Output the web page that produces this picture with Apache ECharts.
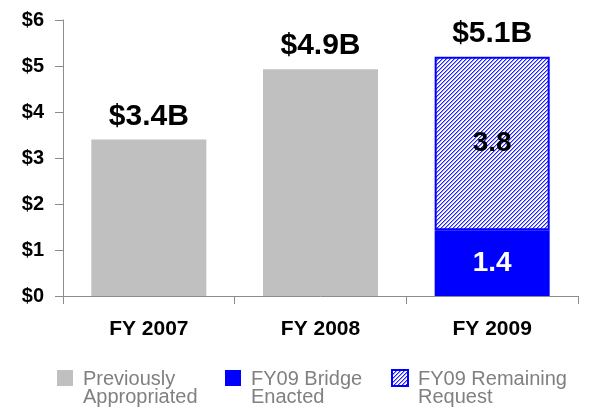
<!DOCTYPE html>
<html>
<head>
<meta charset="utf-8">
<script src="https://cdn.jsdelivr.net/npm/echarts@6/dist/echarts.min.js"></script>
<style>
  html, body { margin: 0; padding: 0; background: #fff; }
  #chart { width: 601px; height: 409px; }
</style>
</head>
<body>
<div id="chart"></div>
<script>
// fiscal years on the x axis
var categories = ['FY 2007', 'FY 2008', 'FY 2009'];
// $ billions
var previouslyAppropriated = [3.4, 4.93, '-'];
var bridgeEnacted = ['-', '-', 1.43];
var remainingRequest = ['-', '-', 3.77];
var totalLabels = ['$3.4B', '$4.9B', '$5.1B'];
var bridgeLabels = ['', '', '1.4'];
var remainingLabels = ['', '', '3.8'];
var yTicks = [0, 1, 2, 3, 4, 5, 6];

var font = 'Arial, "Liberation Sans", sans-serif';

// hatch tile for the remaining request
function hatch() {
  var c = document.createElement('canvas');
  c.width = 4; c.height = 4;
  var ctx = c.getContext('2d');
  ctx.fillStyle = '#ffffff';
  ctx.fillRect(0, 0, 4, 4);
  for (var x = 0; x < 4; x++) {
    for (var y = 0; y < 4; y++) {
      var k = (x + y) % 4;
      if (k === 0) { ctx.fillStyle = '#2222ff'; ctx.fillRect(x, y, 1, 1); }
      if (k === 1) { ctx.fillStyle = '#9999ff'; ctx.fillRect(x, y, 1, 1); }
    }
  }
  return { image: c, repeat: 'repeat' };
}

var chart = echarts.init(document.getElementById('chart'));

// square sitting at the top of a 16x36 box, so it lines up with the first text line
var topSquare = 'path://M0,0h16v16h-16z M16,36L16,36';

function legendItem(name, left) {
  return {
    data: [name],
    left: left,
    top: 369,
    padding: 0,
    orient: 'horizontal',
    itemWidth: 16,
    itemHeight: 36,
    itemGap: 10,
    selectedMode: false,
    icon: topSquare,
    textStyle: {
      fontFamily: font,
      fontSize: 20,
      lineHeight: 18,
      color: '#808080',
      padding: [0, 0, 0, 5]
    },
    formatter: function (n) { return n.replace(/^(FY09 \S+|\S+) /, '$1\n'); }
  };
}

var totals = categories.map(function () { return 0; });

chart.setOption({
  animation: false,
  grid: { left: 63, right: 23, top: 20, bottom: 113 },
  legend: [
    legendItem('Previously Appropriated', 57),
    legendItem('FY09 Bridge Enacted', 225),
    legendItem('FY09 Remaining Request', 391)
  ],
  xAxis: {
    type: 'category',
    data: categories,
    axisLine: { lineStyle: { color: '#8c8c8c', width: 1 } },
    axisTick: { show: true, alignWithLabel: false, length: 8, lineStyle: { color: '#8c8c8c' } },
    axisLabel: { margin: 23, fontFamily: font, fontSize: 21, fontWeight: 'bold', color: '#000' }
  },
  yAxis: {
    type: 'value',
    min: yTicks[0],
    max: yTicks[yTicks.length - 1],
    interval: 1,
    splitLine: { show: false },
    axisLine: { show: true, lineStyle: { color: '#8c8c8c', width: 1 } },
    axisTick: { show: true, length: 8, lineStyle: { color: '#8c8c8c' } },
    axisLabel: {
      margin: 19,
      fontFamily: font, fontSize: 20, fontWeight: 'bold', color: '#000',
      formatter: function (v) { return '$' + v; }
    }
  },
  series: [
    {
      name: 'Previously Appropriated',
      type: 'bar',
      stack: 'total',
      barWidth: '67%',
      data: previouslyAppropriated,
      itemStyle: { color: '#c0c0c0' }
    },
    {
      name: 'FY09 Bridge Enacted',
      type: 'bar',
      stack: 'total',
      data: bridgeEnacted,
      itemStyle: { color: '#0000ff' },
      label: {
        show: true, position: 'inside',
        formatter: function (p) { return bridgeLabels[p.dataIndex]; },
        fontFamily: font, fontSize: 28, fontWeight: 'bold', color: '#fff'
      }
    },
    {
      name: 'FY09 Remaining Request',
      type: 'bar',
      stack: 'total',
      data: remainingRequest,
      itemStyle: { color: hatch(), borderColor: '#0000ff', borderWidth: 2 },
      label: {
        show: true, position: 'inside',
        formatter: function (p) { return remainingLabels[p.dataIndex]; },
        fontFamily: font, fontSize: 28, fontWeight: 'bold', color: '#000'
      }
    },
    {
      // zero-height cap carrying the total labels
      name: 'total',
      type: 'bar',
      stack: 'total',
      data: totals,
      itemStyle: { color: 'transparent' },
      label: {
        show: true, position: 'top', distance: 8,
        formatter: function (p) { return totalLabels[p.dataIndex]; },
        fontFamily: font, fontSize: 30, fontWeight: 'bold', color: '#000'
      }
    }
  ]
});
</script>
</body>
</html>
